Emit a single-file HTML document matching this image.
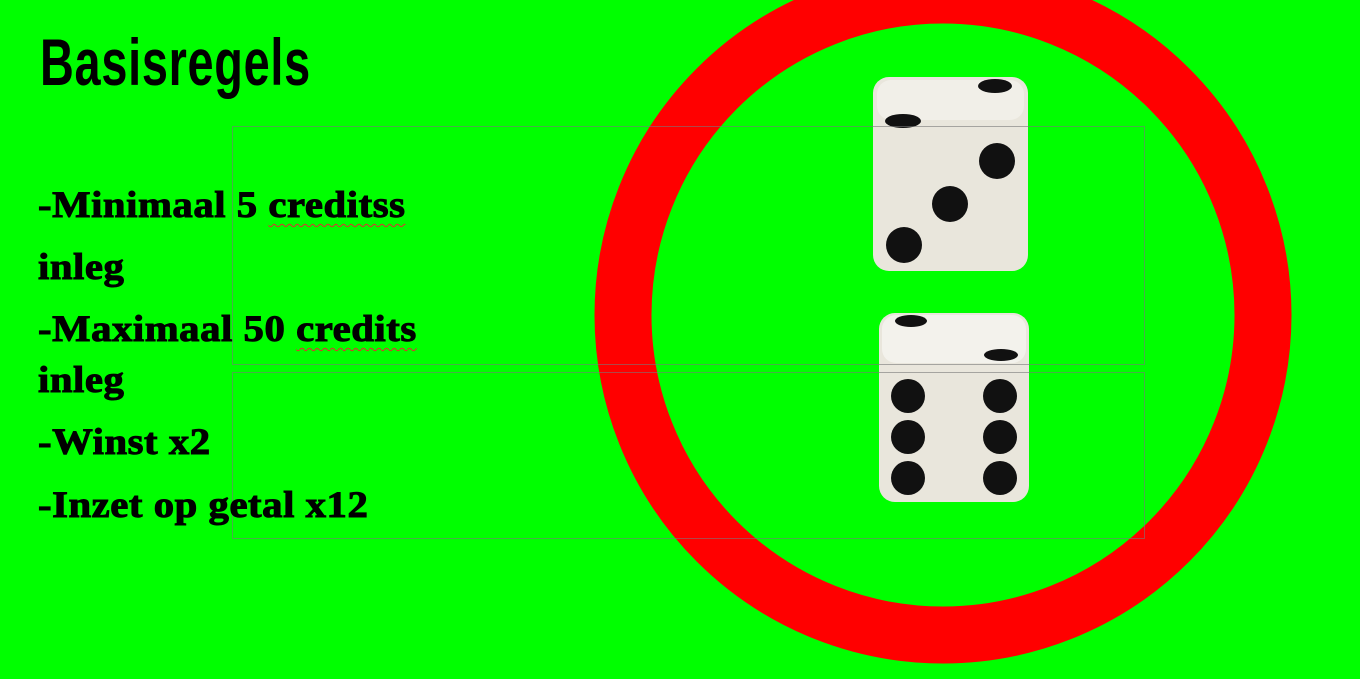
<!DOCTYPE html>
<html><head><meta charset="utf-8"><style>
html,body{margin:0;padding:0}
body{width:1360px;height:679px;background:#00ff00;position:relative;overflow:hidden;font-family:"Liberation Serif",serif}
#title{position:absolute;left:40px;top:22px;font-family:"Liberation Sans Narrow","Liberation Sans",sans-serif;font-weight:bold;font-size:66px;line-height:80px;color:#000;transform:scaleX(0.71);transform-origin:left top;letter-spacing:1px}
.line{position:absolute;left:38px;font-weight:bold;font-size:37px;color:#000;white-space:nowrap;letter-spacing:0.5px;-webkit-text-stroke:1px #000;transform:scaleX(1.1);transform-origin:left top}
.sq{text-decoration:underline wavy #e03030;text-decoration-thickness:1px;text-underline-offset:6px}
.box{position:absolute;border:1px solid rgba(120,120,120,0.6)}
</style></head><body>
<svg width="1360" height="679" style="position:absolute;left:0;top:0">
<circle cx="943" cy="315" r="320" fill="none" stroke="#ff0000" stroke-width="57"/>
<g>
<rect x="873" y="77" width="155" height="194" rx="16" fill="#e9e6dc"/>
<rect x="877" y="80" width="147" height="40" rx="14" fill="#f1efe8"/>
<ellipse cx="995" cy="86" rx="17" ry="7" fill="#111"/>
<ellipse cx="903" cy="121" rx="18" ry="7" fill="#111"/>
<circle cx="997" cy="161" r="18" fill="#111"/>
<circle cx="950" cy="204" r="18" fill="#111"/>
<circle cx="904" cy="245" r="18" fill="#111"/>
</g>
<g>
<rect x="879" y="313" width="150" height="189" rx="16" fill="#e9e6dc"/>
<rect x="882" y="315" width="144" height="48" rx="14" fill="#f3f2ec"/>
<ellipse cx="911" cy="321" rx="16" ry="6" fill="#111"/>
<ellipse cx="1001" cy="355" rx="17" ry="6" fill="#111"/>
<circle cx="908" cy="396" r="17" fill="#111"/><circle cx="1000" cy="396" r="17" fill="#111"/>
<circle cx="908" cy="437" r="17" fill="#111"/><circle cx="1000" cy="437" r="17" fill="#111"/>
<circle cx="908" cy="478" r="17" fill="#111"/><circle cx="1000" cy="478" r="17" fill="#111"/>
</g>
</svg>
<div class="box" style="left:232px;top:126px;width:911px;height:237px"></div>
<div class="box" style="left:232px;top:372px;width:911px;height:165px"></div>
<div id="title">Basisregels</div>
<div class="line" style="top:184px">-Minimaal 5 <span class="sq">creditss</span></div>
<div class="line" style="top:246px">inleg</div>
<div class="line" style="top:308px">-Maximaal 50 <span class="sq">credits</span></div>
<div class="line" style="top:359px">inleg</div>
<div class="line" style="top:421px">-Winst x2</div>
<div class="line" style="top:484px">-Inzet op getal x12</div>
</body></html>
